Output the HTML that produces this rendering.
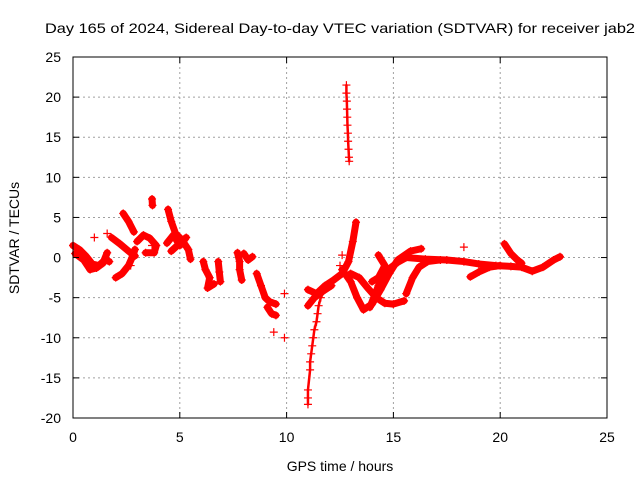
<!DOCTYPE html>
<html><head><meta charset="utf-8"><style>
html,body{margin:0;padding:0;background:#fff;}
svg{display:block;font-family:"Liberation Sans",Arial,sans-serif;}
</style></head><body>
<svg id="chart" width="640" height="480" viewBox="0 0 640 480" xmlns="http://www.w3.org/2000/svg">
<rect x="0" y="0" width="640" height="480" fill="#fff"/>
<text x="340" y="33" text-anchor="middle" font-size="14" textLength="590" lengthAdjust="spacingAndGlyphs">Day 165 of 2024, Sidereal Day-to-day VTEC variation (SDTVAR) for receiver jab2</text>
<g id="grid"></g>
<g id="marks"></g>
<rect x="73" y="57" width="534" height="361" fill="none" stroke="#000" stroke-width="1"/>
<g id="ticks"></g>
<text x="340" y="471" text-anchor="middle" font-size="14">GPS time / hours</text>
<text transform="translate(19,238) rotate(-90)" text-anchor="middle" font-size="14">SDTVAR / TECUs</text>
</svg>
<script>
const xTicks = [0, 5, 10, 15, 20, 25];
const yTicks = [25, 20, 15, 10, 5, 0, -5, -10, -15, -20];
const trackA = [[0,1.5],[0.3,1.0],[0.6,0.2],[0.9,-0.8],[1.2,-1.0],[1.5,-0.3],[1.7,-0.5]];
const trackB = [[0.1,0.5],[0.5,-0.3],[0.8,-1.5],[1.1,-1.3],[1.4,-0.7],[1.6,0.6]];
const trackC = [[1.8,2.5],[2.2,1.7],[2.6,0.8],[2.9,0.2]];
const trackD = [[2.0,-2.5],[2.3,-2.0],[2.6,-1.0],[2.8,0.2],[2.9,1.0]];
const trackE = [[2.35,5.5],[2.6,4.5],[2.85,3.2]];
const trackF = [[3.7,7.3],[3.72,6.5]];
const trackG = [[3.0,2.0],[3.3,2.8],[3.6,2.4],[3.9,1.5],[3.8,0.6],[3.4,0.6]];
const trackH = [[4.45,6.0],[4.6,4.5],[4.8,3.0],[5.1,2.2],[5.4,1.0],[5.5,-0.2]];
const trackI = [[4.4,1.8],[4.7,2.8],[5.0,1.5],[5.3,2.5],[4.6,0.8]];
const trackJ = [[6.1,-0.5],[6.2,-1.5],[6.4,-2.5],[6.3,-3.8],[6.6,-3.3]];
const trackK = [[6.8,-0.5],[6.85,-1.8],[6.9,-3.0]];
const trackL = [[7.7,0.6],[7.8,-0.5],[7.8,-1.5],[7.9,-2.8]];
const trackM = [[8.0,0.5],[8.2,-0.3],[8.4,0.1]];
const trackN = [[8.6,-2.0],[8.8,-3.5],[9.0,-5.0],[9.2,-5.5],[9.5,-5.8]];
const trackO = [[9.1,-6.2],[9.3,-7.0],[9.5,-7.2]];
const trackP = [[11.0,-18.3],[11.0,-17.5],[11.0,-16.5],[11.1,-14.0],[11.1,-13.0],[11.15,-12.0],[11.2,-11.0],[11.25,-10.0],[11.3,-9.0],[11.4,-8.0],[11.45,-7.0],[11.5,-6.0],[11.6,-5.0],[11.8,-4.0]];
const trackQ = [[11.0,-4.0],[11.4,-4.5],[11.8,-3.5],[12.2,-2.8],[12.6,-2.0],[12.9,-0.5],[13.1,2.0],[13.25,4.4]];
const trackR = [[11.0,-6.0],[11.3,-5.0],[11.7,-4.2],[12.1,-3.5]];
const trackS = [[12.8,21.5],[12.8,20.5],[12.82,19.5],[12.83,18.5],[12.84,17.5],[12.85,16.5],[12.87,15.5],[12.88,14.5],[12.9,13.5],[12.92,12.5],[12.93,12.0]];
const trackT = [[12.6,-1.5],[13.0,-3.0],[13.3,-5.0],[13.6,-6.5],[14.0,-5.8],[14.4,-4.0],[14.8,-2.0],[15.2,-0.3],[15.8,0.8],[16.3,1.1]];
const trackU = [[13.0,-2.0],[13.4,-2.5],[13.8,-3.8],[14.2,-5.0],[14.6,-5.7],[15.0,-5.8],[15.5,-5.4]];
const trackV = [[13.9,-6.2],[14.3,-3.5],[14.7,-1.6],[15.2,-0.6],[15.6,0.0],[16.5,-0.2],[17.5,-0.3],[18.3,-0.5],[19.0,-0.8],[19.8,-1.0],[20.5,-1.1],[21.0,-1.2],[21.5,-1.7],[22.0,-1.2],[22.5,-0.3],[22.8,0.1]];
const trackW = [[15.6,-4.5],[15.9,-2.5],[16.2,-1.2],[16.6,-0.5],[17.2,-0.3]];
const trackX = [[18.6,-2.4],[19.0,-1.8],[19.5,-1.2],[20.0,-1.0]];
const trackY = [[20.2,1.7],[20.5,0.5],[20.8,-0.3],[21.0,-0.7]];
const trackZ = [[14.3,0.3],[14.6,-1.0],[14.3,-2.5],[14.0,-3.0]];
const singles = [[9.9,-4.5],[9.9,-10.0],[9.4,-9.3],[2.7,-1.0],[18.3,1.3],[12.6,0.3],[12.5,-1.0],[3.7,1.5],[1.0,2.5],[1.6,3.0]];
const tracks = [trackA,trackB,trackC,trackD,trackE,trackF,trackG,trackH,trackI,trackJ,trackK,trackL,trackM,trackN,trackO,trackP,trackQ,trackR,trackS,trackT,trackU,trackV,trackW,trackX,trackY,trackZ];
const thinTracks = [trackP, trackS];

const L=73,R=607,T=57,B=418,xmin=0,xmax=25,ymin=-20,ymax=25;
function xs(v){return L+(v-xmin)/(xmax-xmin)*(R-L);}
function ys(v){return B-(v-ymin)/(ymax-ymin)*(B-T);}
const NS='http://www.w3.org/2000/svg';
function mk(tag,attrs,parent){const e=document.createElementNS(NS,tag);for(const k in attrs)e.setAttribute(k,attrs[k]);parent.appendChild(e);return e;}
const grid=document.getElementById('grid'),ticks=document.getElementById('ticks'),marks=document.getElementById('marks');
xTicks.forEach(t=>{
  const x=xs(t);
  if(t>xmin&&t<xmax){const g=mk('line',{x1:x,x2:x,y1:T,y2:B,stroke:'#a0a0a0','stroke-dasharray':'2,3'},grid);
  
  }
  const a=mk('line',{x1:x,x2:x,y1:B,y2:B-6,stroke:'#000'},ticks);
  
  
  const b=mk('line',{x1:x,x2:x,y1:T,y2:T+6,stroke:'#000'},ticks);
  
  
  const tx=mk('text',{x:x,y:B+24,'text-anchor':'middle','font-size':'14'},ticks);
  tx.textContent=t;
  
  
});
yTicks.forEach(t=>{
  const y=ys(t);
  if(t>ymin&&t<ymax){const g=mk('line',{x1:L,x2:R,y1:y,y2:y,stroke:'#a0a0a0','stroke-dasharray':'2,3'},grid);
  
  }
  const a=mk('line',{x1:L,x2:L+6,y1:y,y2:y,stroke:'#000'},ticks);
  
  
  const b=mk('line',{x1:R,x2:R-6,y1:y,y2:y,stroke:'#000'},ticks);
  
  
  const tx=mk('text',{x:L-12,y:y+5,'text-anchor':'end','font-size':'14'},ticks);
  tx.textContent=t;
  
  
});
function plus(p){
  const x=xs(p[0]),y=ys(p[1]);
  const e=mk('path',{d:`M${x-4},${y}H${x+4}M${x},${y-4}V${y+4}`,stroke:'#f00','stroke-width':'1.2',fill:'none'},marks);
  
  
}
tracks.forEach(tr=>{
  const w = thinTracks.includes(tr) ? '2.5' : '7';
  const pl=mk('polyline',{points:tr.map(p=>xs(p[0])+','+ys(p[1])).join(' '),stroke:'#f00','stroke-width':w,fill:'none','stroke-linejoin':'round','stroke-linecap':'round'},marks);
  
  
  tr.forEach(plus);
});
singles.forEach(plus);
</script>
</body></html>
